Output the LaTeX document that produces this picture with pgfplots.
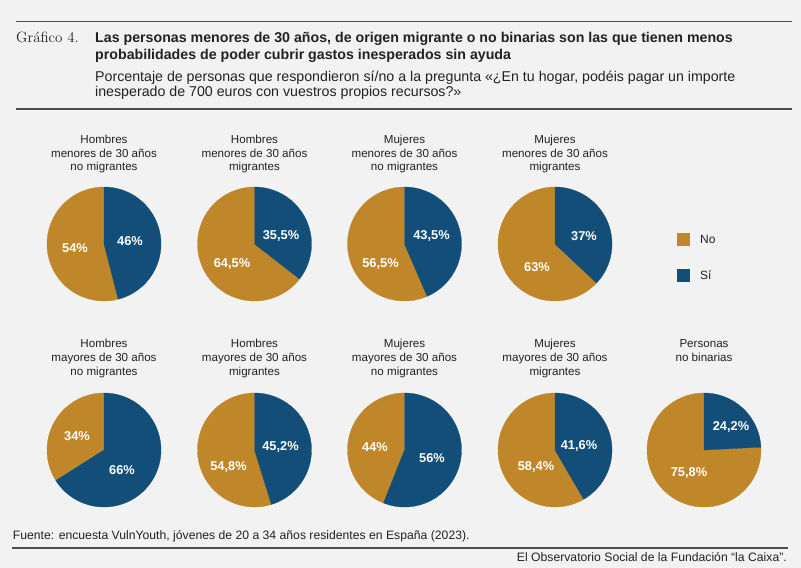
\documentclass[border=0pt]{standalone}
\usepackage{pgfplots}
\pgfplotsset{compat=1.18}
\usepackage{fontspec}
\newfontfamily\sansf{Liberation Sans}
\definecolor{bg}{HTML}{F2F2F2}
\definecolor{gold}{HTML}{C0872A}
\definecolor{navy}{HTML}{124E77}
\definecolor{rulec}{HTML}{4D4D4D}
\definecolor{txt}{HTML}{222222}

% #1 cx, #2 cy, #3 value "Si", #4 label Si, #5 dx, #6 dy, #7 label No, #8 dx, #9 dy
\newcommand\pie[9]{%
 \pgfmathsetmacro\aS{3.6*#3}%
 \begin{axis}[at={(#1bp,-#2bp)}, anchor=center, width=114bp, height=114bp,
   scale only axis, xmin=-1, xmax=1, ymin=-1, ymax=1, hide axis, clip=false]
  \addplot[fill=gold, draw=gold, line width=0.3bp, domain=\aS:360, samples=150, variable=\t]
     ({sin(\t)},{cos(\t)}) -- (axis cs:0,0) -- cycle;
  \addplot[fill=navy, draw=navy, line width=0.3bp, domain=0:\aS, samples=150, variable=\t]
     ({sin(\t)},{cos(\t)}) -- (axis cs:0,0) -- cycle;
  \node[pct, xshift=#5bp, yshift=#6bp] at (axis cs:0,0) {#4};
  \node[pct, xshift=#8bp, yshift=#9bp] at (axis cs:0,0) {#7};
 \end{axis}}

\newcommand\ttl[5]{%
 \node[ttl] at (#1bp,-#2bp) {#3};
 \node[ttl] at (#1bp,-#2bp-13.7bp) {#4};
 \node[ttl] at (#1bp,-#2bp-27.4bp) {#5};}

\begin{document}
\begin{tikzpicture}[
  pct/.style={text=white, inner sep=0pt, font=\sansf\bfseries\fontsize{12.8bp}{14bp}\selectfont},
  ttl/.style={text=txt, inner sep=0pt, anchor=base, font=\sansf\fontsize{11.6bp}{13bp}\selectfont}]
\fill[bg] (0,0) rectangle (801bp,-568bp);
\useasboundingbox (0,0) rectangle (801bp,-568bp);

% header
\draw[rulec, line width=1.4bp] (16bp,-21.5bp) -- (792bp,-21.5bp);
\node[anchor=base west, inner sep=0pt, text=txt, font=\rmfamily\fontsize{14.9bp}{16bp}\selectfont] at (16bp,-42.7bp) {Gráfico 4.};
\node[anchor=base west, inner sep=0pt, text=txt, font=\sansf\bfseries\fontsize{14.2bp}{16bp}\selectfont] at (95bp,-42.7bp) {Las personas menores de 30 años, de origen migrante o no binarias son las que tienen menos};
\node[anchor=base west, inner sep=0pt, text=txt, font=\sansf\bfseries\fontsize{14.2bp}{16bp}\selectfont] at (95bp,-59bp) {probabilidades de poder cubrir gastos inesperados sin ayuda};
\node[anchor=base west, inner sep=0pt, text=txt, font=\sansf\fontsize{14.2bp}{16bp}\selectfont] at (95bp,-81bp) {Porcentaje de personas que respondieron sí/no a la pregunta «¿En tu hogar, podéis pagar un importe};
\node[anchor=base west, inner sep=0pt, text=txt, font=\sansf\fontsize{14.2bp}{16bp}\selectfont] at (95bp,-96.3bp) {inesperado de 700 euros con vuestros propios recursos?»};
\draw[rulec, line width=1.6bp] (16bp,-109bp) -- (792bp,-109bp);

% pie titles
\ttl{104}{143.3}{Hombres}{menores de 30 años}{no migrantes}
\ttl{254.5}{143.3}{Hombres}{menores de 30 años}{migrantes}
\ttl{404.5}{143.3}{Mujeres}{menores de 30 años}{no migrantes}
\ttl{555}{143.3}{Mujeres}{menores de 30 años}{migrantes}
\ttl{104}{347.7}{Hombres}{mayores de 30 años}{no migrantes}
\ttl{254.5}{347.7}{Hombres}{mayores de 30 años}{migrantes}
\ttl{404.5}{347.7}{Mujeres}{mayores de 30 años}{no migrantes}
\ttl{555}{347.7}{Mujeres}{mayores de 30 años}{migrantes}
\node[ttl] at (704bp,-347.7bp) {Personas};
\node[ttl] at (704bp,-361.4bp) {no binarias};

% pies
\pie{104}{244}{46}{46\%}{26}{3}{54\%}{-29}{-4}
\pie{254.5}{244}{35.5}{35,5\%}{26.5}{8}{64,5\%}{-22.5}{-20}
\pie{404.5}{244}{43.5}{43,5\%}{27}{8}{56,5\%}{-24}{-20}
\pie{555}{244}{37}{37\%}{29}{8}{63\%}{-18}{-23}
\pie{104}{450}{66}{66\%}{18}{-20}{34\%}{-27}{14}
\pie{254.5}{450}{45.2}{45,2\%}{26}{3}{54,8\%}{-26}{-17}
\pie{404.5}{450}{56}{56\%}{27.5}{-8}{44\%}{-29.5}{3}
\pie{555}{450}{41.6}{41,6\%}{24}{4}{58,4\%}{-19}{-17}
\pie{704}{450}{24.2}{24,2\%}{27}{23}{75,8\%}{-15}{-23}

% legend
\fill[gold] (677bp,-233bp) rectangle (690bp,-246bp);
\fill[navy] (677bp,-269bp) rectangle (690bp,-282bp);
\node[anchor=base west, inner sep=0pt, text=txt, font=\sansf\fontsize{12bp}{13bp}\selectfont] at (700bp,-243.5bp) {No};
\node[anchor=base west, inner sep=0pt, text=txt, font=\sansf\fontsize{12bp}{13bp}\selectfont] at (700bp,-279.5bp) {Sí};

% footer
\node[anchor=base west, inner sep=0pt, text=txt, font=\sansf\fontsize{12.2bp}{13bp}\selectfont] at (12.7bp,-539.3bp) {Fuente: encuesta VulnYouth, jóvenes de 20 a 34 años residentes en España (2023).};
\draw[rulec, line width=1.6bp] (12bp,-547.7bp) -- (788bp,-547.7bp);
\node[anchor=base east, inner sep=0pt, text=txt, font=\sansf\fontsize{12.2bp}{13bp}\selectfont] at (787bp,-561.7bp) {El Observatorio Social de la Fundación “la Caixa”.};
\end{tikzpicture}
\end{document}
